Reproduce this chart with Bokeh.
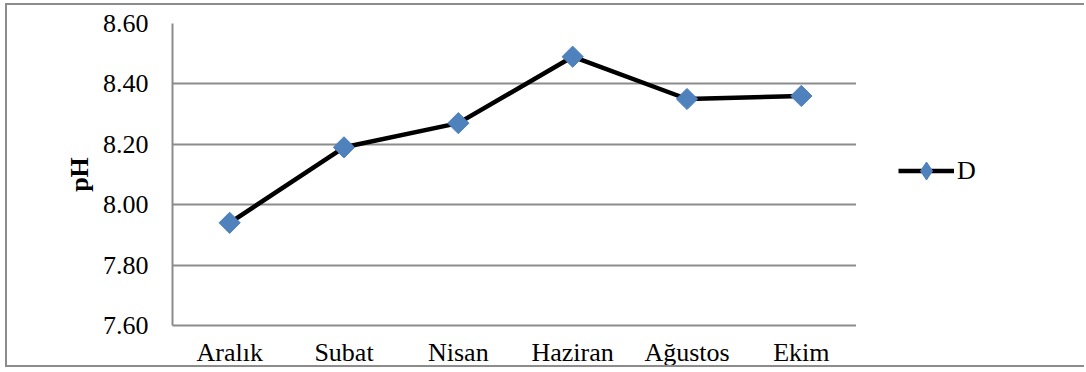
from bokeh.plotting import figure
from bokeh.layouts import row
from bokeh.models import (FactorRange, Range1d, FixedTicker, NumeralTickFormatter,
                          Legend, LegendItem, ColumnDataSource)
from bokeh.embed import file_html
from bokeh.resources import INLINE
import numpy as np

months = ["Aralık", "Subat", "Nisan", "Haziran", "Ağustos", "Ekim"]
ph_values = [7.94, 8.19, 8.27, 8.49, 8.35, 8.36]
y_ticks = [7.6, 7.8, 8.0, 8.2, 8.4, 8.6]
series_name = "D"

FONT = "Liberation Serif"
GRAY = "#8c8c8c"
BORDER = f"2px solid {GRAY}"
BLUE = "#4F81BD"
LINE_KW = dict(line_color="black", line_width=4.5)

src = ColumnDataSource(dict(x=months, y=ph_values))

# ---------------- main chart ----------------
p = figure(width=851, height=364, output_backend="svg", toolbar_location=None,
           x_range=FactorRange(*months, range_padding=0),
           y_range=Range1d(7.6, 8.6),
           min_border_left=165, min_border_right=0,
           min_border_top=18, min_border_bottom=43)
p.margin = (3, 0, 0, 5)
p.styles = {"border-left": BORDER, "border-top": BORDER, "border-bottom": BORDER}
p.outline_line_color = None
p.background_fill_color = "white"
p.border_fill_color = "white"

p.yaxis.ticker = FixedTicker(ticks=y_ticks)
p.yaxis.formatter = NumeralTickFormatter(format="0.00")
for ax in (p.xaxis[0], p.yaxis[0]):
    ax.axis_line_color = GRAY
    ax.axis_line_width = 2
    ax.major_tick_line_color = None
    ax.minor_tick_line_color = None
    ax.major_tick_out = 0
    ax.major_tick_in = 0
    ax.major_label_text_font = FONT
    ax.major_label_text_font_size = "26px"
    ax.major_label_text_color = "black"
p.yaxis.major_label_standoff = 24
p.xaxis.major_label_standoff = 12
p.yaxis.axis_label = "pH"
p.yaxis.axis_label_text_font = FONT
p.yaxis.axis_label_text_font_style = "bold"
p.yaxis.axis_label_text_font_size = "26px"
p.yaxis.axis_label_text_color = "black"
p.yaxis.axis_label_standoff = 6

p.xgrid.grid_line_color = None
p.ygrid.ticker = FixedTicker(ticks=y_ticks)
p.ygrid.grid_line_color = GRAY
p.ygrid.grid_line_width = 2

p.line("x", "y", source=src, **LINE_KW)
p.scatter("x", "y", source=src, marker="square", size=15, angle=np.pi / 4,
          fill_color=BLUE, line_color=BLUE)

# ---------------- legend panel ----------------
lg = figure(width=228, height=364, output_backend="svg", toolbar_location=None,
            x_range=FactorRange(*months), y_range=Range1d(0, 1),
            x_axis_type=None, y_axis_type=None,
            min_border=0)
lg.margin = (3, 0, 0, 0)
lg.styles = {"border-top": BORDER, "border-bottom": BORDER}
lg.outline_line_color = None
lg.grid.grid_line_color = None
lg.background_fill_color = "white"
lg.border_fill_color = "white"
# same series, outside the visible y-range: only its legend entry shows
l_line = lg.line("x", "y", source=src, **LINE_KW)
l_pts = lg.scatter("x", "y", source=src, marker="diamond", size=18,
                   fill_color=BLUE, line_color=BLUE)

legend = Legend(items=[LegendItem(label=series_name, renderers=[l_line, l_pts])],
                location=(42, 132), orientation="vertical",
                padding=0, margin=0, spacing=0,
                glyph_width=56, glyph_height=45, label_standoff=3,
                label_text_font=FONT, label_text_font_size="26px",
                label_text_color="black",
                border_line_color=None, background_fill_alpha=0)
lg.add_layout(legend, "center")

layout = row(p, lg, spacing=0)
open("out.html", "w").write(file_html(layout, INLINE))
